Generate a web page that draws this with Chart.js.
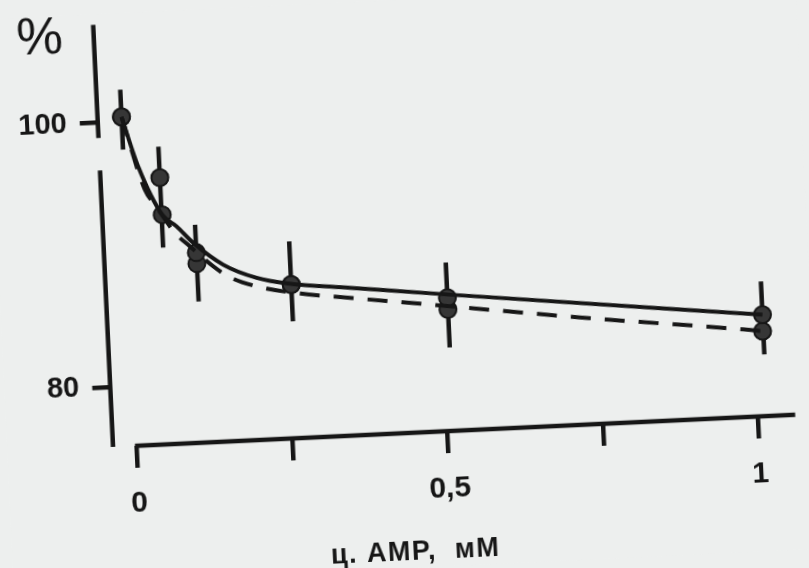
<!DOCTYPE html>
<html>
<head>
<meta charset="utf-8">
<script src="https://cdn.jsdelivr.net/npm/chart.js@4.4.1/dist/chart.umd.min.js"></script>
<style>
  html, body { margin: 0; padding: 0; background: #edefee; overflow: hidden; }
  body { width: 809px; height: 568px; }
  /* the scan is slightly turned */
  #c { display: block; background: #edefee; transform: rotate(-2.7deg); }
</style>
</head>
<body>
<canvas id="c" width="809" height="568"></canvas>
<script>
const xTicks = [0, 0.25, 0.5, 0.75, 1];
const xTickLabels = ['0', '', '0,5', '', '1'];
const yTicks = [80, 100];
const yTickLabels = ['80', '100'];

// measured points (solid curve and dashed curve)
const solidX = [0, 0.058, 0.11, 0.26, 0.51, 1.015];
const solidY = [100.36, 92.84, 89.86, 87.11, 85.56, 83.17];
const dashedX = [0, 0.057, 0.11, 0.26, 0.51, 1.014];
const dashedY = [100.36, 95.64, 89.03, 87.11, 84.68, 81.92];

// error bars
const errX = [0, 0.057, 0.11, 0.26, 0.51, 1.015];
const errLo = [97.9, 90.35, 86.16, 84.34, 81.81, 80.16];
const errHi = [102.43, 97.98, 91.97, 90.38, 88.22, 85.68];

// fitted curves
const solidCurveX = [0, 0.023, 0.058, 0.080, 0.106, 0.152, 0.205, 0.255, 0.354, 0.512, 1.015];
const solidCurveY = [100.36, 96.57, 92.84, 91.92, 90.6, 88.86, 87.74, 87.2, 86.66, 85.8, 83.17];
const dashedCurveX = [0, 0.032, 0.047, 0.077, 0.100, 0.136, 0.159, 0.202, 0.273, 0.353, 0.482, 0.722, 0.983, 1.014];
const dashedCurveY = [100.36, 94.79, 93.63, 91.44, 90.36, 88.77, 87.96, 87.13, 86.41, 85.9, 85.11, 83.6, 82.12, 81.92];

const ink = '#161616';
const font = '"Liberation Sans", Arial, sans-serif';

const pts = (xs, ys) => xs.map((v, i) => ({ x: v, y: ys[i] }));

const frame = {
    id: 'frame',
    beforeDatasetsDraw(chart) {
        const { ctx, chartArea, scales: { x, y } } = chart;
        ctx.save();
        ctx.strokeStyle = ink;
        ctx.lineWidth = 4.5;
        // y axis, broken just below 100
        ctx.beginPath();
        ctx.moveTo(chartArea.left, chartArea.top);
        ctx.lineTo(chartArea.left, y.getPixelForValue(98.85));
        ctx.moveTo(chartArea.left, y.getPixelForValue(96.4));
        ctx.lineTo(chartArea.left, chartArea.bottom);
        // x axis starts at 0
        ctx.moveTo(x.getPixelForValue(0) - 2, chartArea.bottom);
        ctx.lineTo(chartArea.right, chartArea.bottom);
        ctx.stroke();

        // error bars
        ctx.lineWidth = 4.5;
        ctx.beginPath();
        errX.forEach((v, i) => {
            const px = x.getPixelForValue(v);
            ctx.moveTo(px, y.getPixelForValue(errLo[i]));
            ctx.lineTo(px, y.getPixelForValue(errHi[i]));
        });
        ctx.stroke();

        ctx.fillStyle = ink;
        ctx.textAlign = 'center';
        ctx.textBaseline = 'middle';
        ctx.font = '52px ' + font;
        ctx.fillText('%', chartArea.left - 54, chartArea.top + 12);
        ctx.font = 'bold 27px ' + font;
        ctx.letterSpacing = '1.5px';
        ctx.fillText('ц. AMP,  мМ', 403, 553);
        ctx.restore();
    }
};

new Chart(document.getElementById('c'), {
    type: 'scatter',
    data: {
        datasets: [
            {
                data: pts(solidCurveX, solidCurveY),
                showLine: true,
                borderColor: ink,
                borderWidth: 4,
                pointRadius: 0,
                cubicInterpolationMode: 'monotone'
            },
            {
                data: pts(dashedCurveX, dashedCurveY),
                showLine: true,
                borderColor: ink,
                borderWidth: 4,
                borderDash: [20, 14],
                pointRadius: 0,
                cubicInterpolationMode: 'monotone'
            },
            {
                data: pts(solidX, solidY),
                pointRadius: 8.5,
                pointBackgroundColor: '#363636',
                pointBorderColor: ink,
                pointBorderWidth: 2
            },
            {
                data: pts(dashedX, dashedY),
                pointRadius: 8.5,
                pointBackgroundColor: '#363636',
                pointBorderColor: ink,
                pointBorderWidth: 2
            }
        ]
    },
    options: {
        responsive: false,
        animation: false,
        devicePixelRatio: 1,
        layout: { padding: { left: 0, right: 20.4, top: 10.6, bottom: 0 } },
        plugins: { legend: { display: false }, tooltip: { enabled: false } },
        scales: {
            x: {
                type: 'linear',
                min: -0.0386,
                max: 1.06,
                afterBuildTicks: (scale) => { scale.ticks = xTicks.map(v => ({ value: v })); },
                afterFit: (scale) => { scale.height = 135; scale.paddingLeft = 0; scale.paddingRight = 0; },
                border: { display: false },
                grid: { drawOnChartArea: false, drawTicks: true, tickLength: 22, lineWidth: 4.5, color: ink },
                ticks: {
                    autoSkip: false,
                    maxRotation: 0,
                    padding: 18,
                    color: ink,
                    font: { family: font, size: 30, weight: 'bold' },
                    callback: (v, i) => xTickLabels[i]
                }
            },
            y: {
                min: 75.5,
                max: 107.4,
                afterBuildTicks: (scale) => { scale.ticks = yTicks.map(v => ({ value: v })); },
                afterFit: (scale) => { scale.width = 105.7; scale.paddingTop = 0; scale.paddingBottom = 0; },
                border: { display: false },
                grid: { drawOnChartArea: false, drawTicks: true, tickLength: 18, lineWidth: 4.5, color: ink },
                ticks: {
                    padding: 13,
                    color: ink,
                    font: { family: font, size: 29, weight: 'bold' },
                    callback: (v, i) => yTickLabels[i]
                }
            }
        }
    },
    plugins: [frame]
});
</script>
</body>
</html>
